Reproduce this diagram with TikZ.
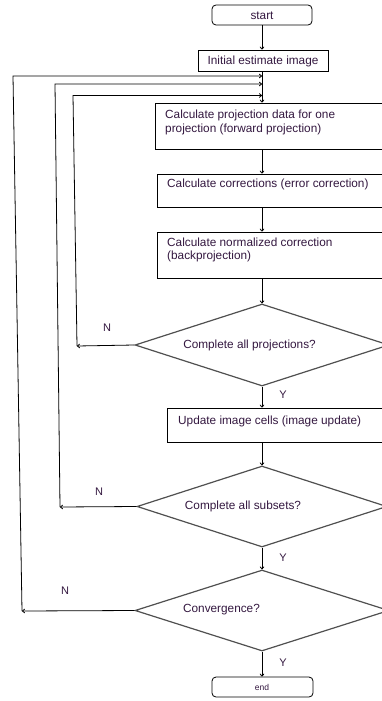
\documentclass[tikz,border=0pt]{standalone}
\usepackage{fontspec}
\setmainfont{Liberation Sans}
\usetikzlibrary{shapes.geometric,arrows.meta}
\definecolor{ink}{RGB}{52,24,64}
\definecolor{edge}{RGB}{80,80,80}
\tikzset{
  flow/.style={draw=black,line width=0.8pt,-{To[length=3pt,width=4.5pt]}},
  stepbox/.style={draw=black,line width=0.8pt,rectangle,inner sep=0pt},
  terminal/.style={stepbox,rounded corners=4pt},
  decision/.style={draw=edge,line width=1.2pt,diamond,inner sep=0pt},
  txt/.style={text=ink,font=\fontsize{11.8}{13.5}\selectfont,inner sep=0pt,align=left},
  yn/.style={text=ink,font=\fontsize{11}{13}\selectfont,inner sep=0pt},
}
\begin{document}
\begin{tikzpicture}[x=1pt,y=-1pt]
\useasboundingbox (0,0) rectangle (382,701);
\clip (0,0) rectangle (382,701);
\fill[white] (0,0) rectangle (382,701);

% terminals and process boxes
\node[terminal,minimum width=100pt,minimum height=20pt] (start) at (262,15) {};
\node[txt] at (262,15.5) {start};
\node[stepbox,minimum width=130pt,minimum height=21pt] (init) at (263,60.5) {};
\node[txt] at (263,61) {Initial estimate image};

\node[stepbox,minimum width=245pt,minimum height=46pt] (b1) at (277.5,126) {};
\node[txt,anchor=west] at (165,122.5) {Calculate projection data for one\\projection (forward projection)};

\node[stepbox,minimum width=243pt,minimum height=33pt] (b2) at (278.5,190.5) {};
\node[txt,anchor=west] at (167,184) {Calculate corrections (error correction)};

\node[stepbox,minimum width=243pt,minimum height=46pt] (b3) at (278.5,255) {};
\node[txt,anchor=west] at (167,250) {Calculate normalized correction\\(backprojection)};

\node[decision,minimum width=254pt,minimum height=82pt] (d1) at (262,345) {};
\node[txt] at (249.5,345) {Complete all projections?};

\node[stepbox,minimum width=233pt,minimum height=34pt] (b4) at (283.5,425) {};
\node[txt,anchor=west] at (178,421.5) {Update image cells (image update)};

\node[decision,minimum width=250pt,minimum height=81pt] (d2) at (262,506.5) {};
\node[txt] at (243,506) {Complete all subsets?};

\node[decision,minimum width=254pt,minimum height=81pt] (d3) at (262,610.5) {};
\node[txt] at (221.5,610) {Convergence?};

\node[terminal,minimum width=101pt,minimum height=20pt] (end) at (262.5,687) {};
\node[txt,font=\fontsize{8.5}{10}\selectfont] at (262,687.5) {end};

% main spine
\coordinate (sx) at (262,0);
\draw[flow] (start.south -| sx) -- (init.north -| sx);
\draw[flow] (init.south -| sx) -- (b1.north -| sx);
\draw[flow] (b1.south -| sx) -- (b2.north -| sx);
\draw[flow] (b2.south -| sx) -- (b3.north -| sx);
\draw[flow] (b3.south -| sx) -- (d1.north);
\draw[flow] (d1.south) -- (b4.north -| sx);
\draw[flow] (b4.south -| sx) -- (d2.north);
\draw[flow] (d2.south) -- (d3.north);
\draw[flow] (d3.south) -- (end.north -| sx);

% feedback loops
\coordinate (l1a) at (77,346);  \coordinate (l1b) at (73,95.5);  \coordinate (l1c) at (262,95.5);
\coordinate (l2a) at (60,507);  \coordinate (l2b) at (55,84);    \coordinate (l2c) at (262,84);
\coordinate (l3a) at (22,611);  \coordinate (l3b) at (13,76);    \coordinate (l3c) at (262,76);

\draw[flow] (d1.west) -- (l1a);
\draw[flow] (l1a) -- (l1b) -- (l1c);
\draw[flow] (d2.west) -- (l2a);
\draw[flow] (l2a) -- (l2b) -- (l2c);
\draw[flow] (d3.west) -- (l3a);
\draw[flow] (l3a) -- (l3b) -- (l3c);

% branch labels
\node[yn] at (107,328) {N};
\node[yn] at (99,492) {N};
\node[yn] at (65,591) {N};
\node[yn] at (283,395) {Y};
\node[yn] at (283,558) {Y};
\node[yn] at (283,663) {Y};
\end{tikzpicture}
\end{document}
